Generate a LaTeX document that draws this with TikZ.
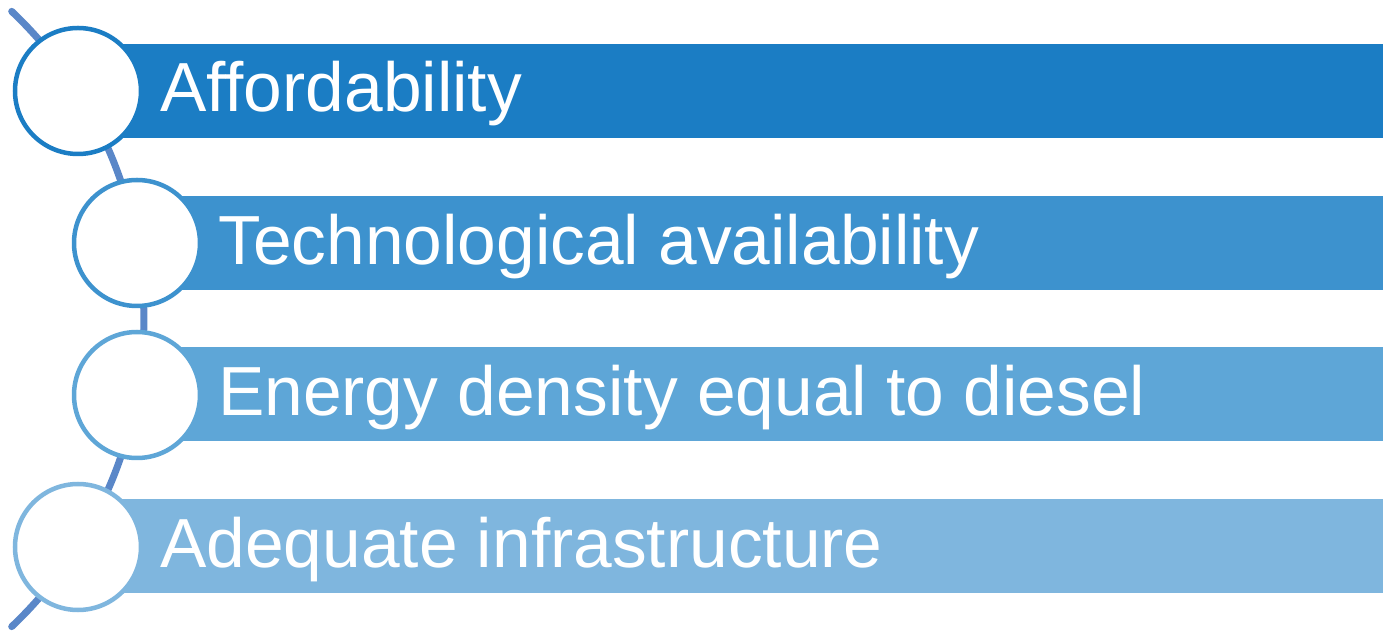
\documentclass[tikz,border=0pt]{standalone}
\usepackage{fontspec}
\setmainfont{Liberation Sans}
\definecolor{arcblue}{RGB}{90,135,200}
\definecolor{barA}{RGB}{27,125,196}
\definecolor{barB}{RGB}{61,146,206}
\definecolor{barC}{RGB}{94,166,215}
\definecolor{barD}{RGB}{127,182,222}
\begin{document}
\begin{tikzpicture}[x=1pt,y=1pt,
  bar/.style={rectangle, anchor=west, inner sep=0pt, minimum height=94pt, draw=none},
  ring/.style={circle, fill=white, line width=4.5pt, inner sep=0pt, minimum size=126pt},
  label/.style={anchor=base west, inner sep=0pt, text=white,
    font=\fontsize{69.5}{82}\selectfont}]
\useasboundingbox (0,0) rectangle (1383,634);
% connecting arc behind the circles
\draw[arcblue, line width=7pt, line cap=round]
  ([shift={(46.5:424.1)}]-280.2,315) arc[start angle=46.5, end angle=-46.5, radius=424.1];
% bars
\node[bar, fill=barA, minimum width=1305pt] (b1) at (78,543) {};
\node[bar, fill=barB, minimum width=1246pt] (b2) at (137,390.5) {};
\node[bar, fill=barC, minimum width=1246pt] (b3) at (137,239.5) {};
\node[bar, fill=barD, minimum width=1305pt] (b4) at (78,87.5) {};
% circles
\node[ring, draw=barA] (c1) at (78,543) {};
\node[ring, draw=barB] (c2) at (137,391) {};
\node[ring, draw=barC] (c3) at (137,239) {};
\node[ring, draw=barD] (c4) at (78,87) {};
% labels
\node[label] (t1) at (160,522) {Affordability};
\node[label] (t2) at (218,369.5) {Technological availability};
\node[label] (t3) at (218,218.5) {Energy density equal to diesel};
\node[label] (t4) at (160,66.5) {Adequate infrastructure};
\end{tikzpicture}
\end{document}
